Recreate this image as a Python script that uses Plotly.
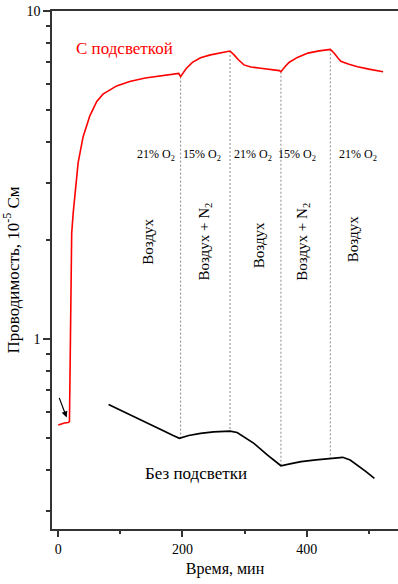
import numpy as np
import plotly.graph_objects as go

# ---- data ----
red_t = [0, 5, 10, 16, 18, 18.8, 20, 21.6, 24, 27, 32, 40, 51, 62, 72, 94, 115, 140, 160, 180, 194,
         197, 200, 206, 216, 229, 245, 262, 276.5, 283, 290, 299, 310, 326, 342, 356, 358.5,
         362, 366, 372, 385, 402, 420, 438, 444, 450, 455, 468, 482, 500, 523]
red_v = [0.547, 0.552, 0.555, 0.557, 0.56, 0.75, 1.31, 2.10, 2.42, 2.72, 3.45, 4.14, 4.80, 5.30, 5.58, 5.91, 6.10, 6.25, 6.33, 6.40, 6.45,
         6.31, 6.42, 6.68, 6.97, 7.20, 7.35, 7.45, 7.55, 7.35, 7.10, 6.85, 6.75, 6.69, 6.63, 6.58, 6.53,
         6.66, 6.80, 6.98, 7.22, 7.44, 7.56, 7.64, 7.45, 7.20, 7.03, 6.88, 6.76, 6.65, 6.53]

black_t = [81, 100, 120, 143, 165, 185, 195, 210, 229, 250, 276.5, 288, 300, 315, 337, 358.5,
           375, 391, 415, 438, 458, 470, 482, 495, 509]
black_v = [0.632, 0.608, 0.583, 0.555, 0.530, 0.508, 0.498, 0.508, 0.516, 0.521, 0.524, 0.519, 0.503, 0.481, 0.443, 0.411,
           0.417, 0.423, 0.428, 0.433, 0.436, 0.428, 0.413, 0.395, 0.376]

switch_t = [197, 276.5, 358.5, 438]

o2_labels = ["21% O<sub>2</sub>", "15% O<sub>2</sub>", "21% O<sub>2</sub>", "15% O<sub>2</sub>", "21% O<sub>2</sub>"]
o2_x = [157, 232, 313, 384, 483]
gas_labels = ["Воздух", "Воздух + N<sub>2</sub>", "Воздух", "Воздух + N<sub>2</sub>", "Воздух"]
gas_x = [144.5, 236, 323, 394, 475]
gas_y = [1.98, 1.98, 1.93, 1.98, 2.02]

x_ticks = [0, 200, 400]
x_minor = [100, 300, 500]
y_ticks = [1, 10]
y_minor = [0.3, 0.4, 0.5, 0.6, 0.7, 0.8, 0.9, 2, 3, 4, 5, 6, 7, 8, 9]

FONT = "'Liberation Serif', 'Times New Roman', Times, serif"
AX = "#333333"

fig = go.Figure()

lr_t, lr_v = np.array(red_t), np.log10(red_v)
lb_t, lb_v = np.array(black_t), np.log10(black_v)
for t in switch_t:
    top = 10 ** np.interp(t, lr_t, lr_v)
    bot = 10 ** np.interp(t, lb_t, lb_v)
    fig.add_trace(go.Scatter(x=[t, t], y=[top, bot], mode="lines",
                             line=dict(color="#8a8a8a", width=1, dash="2px,2px"),
                             showlegend=False, hoverinfo="skip"))

fig.add_trace(go.Scatter(x=red_t, y=red_v, mode="lines",
                         line=dict(color="#ff0000", width=1.6), showlegend=False))
fig.add_trace(go.Scatter(x=black_t, y=black_v, mode="lines",
                         line=dict(color="#000000", width=1.7), showlegend=False))

ann = []
ann.append(dict(x=107, y=np.log10(7.7), text="С подсветкой", showarrow=False,
                font=dict(family=FONT, size=17, color="#ff0000")))
ann.append(dict(x=221, y=np.log10(0.39), text="Без подсветки", showarrow=False,
                font=dict(family=FONT, size=17, color="#000000")))
for t, x in zip(o2_labels, o2_x):
    ann.append(dict(x=x, y=np.log10(3.64), text=t, showarrow=False,
                    font=dict(family=FONT, size=12, color="#000000")))
for t, x, y in zip(gas_labels, gas_x, gas_y):
    ann.append(dict(x=x, y=np.log10(y), text=t, showarrow=False, textangle=-90,
                    font=dict(family=FONT, size=15, color="#000000")))
ann.append(dict(x=13.5, y=np.log10(0.577), text="", showarrow=True, ax=-8, ay=-21,
                arrowhead=2, arrowsize=1, arrowwidth=1.2, arrowcolor="#000000"))

fig.update_layout(
    width=398, height=584,
    margin=dict(l=52, r=0, t=11, b=55),
    plot_bgcolor="white", paper_bgcolor="white",
    annotations=ann,
    font=dict(family=FONT, color="#000000"),
    xaxis=dict(range=[-10.1, 547], tickvals=x_ticks, ticks="outside", ticklen=6, tickwidth=1.5,
               tickcolor=AX, showline=True, linecolor=AX, linewidth=1.5, mirror=True,
               showgrid=False, zeroline=False,
               minor=dict(tickvals=x_minor, ticks="outside", ticklen=3, tickwidth=1.5, tickcolor=AX, showgrid=False),
               tickfont=dict(family=FONT, size=14, color="#000000"),
               title=dict(text="Время, мин", font=dict(family=FONT, size=16, color="#000000"), standoff=7)),
    yaxis=dict(type="log", range=[np.log10(0.2636), 1], tickvals=y_ticks, ticktext=["1", "10"],
               ticks="outside", ticklen=7, tickwidth=1.5, tickcolor=AX,
               showline=True, linecolor=AX, linewidth=1.5, mirror=False,
               showgrid=False, zeroline=False,
               minor=dict(tickvals=y_minor, ticks="outside", ticklen=4, tickwidth=1.5, tickcolor=AX, showgrid=False),
               tickfont=dict(family=FONT, size=14, color="#000000"),
               title=dict(text="Проводимость, 10<sup>-5</sup> См", font=dict(family=FONT, size=17, color="#000000"), standoff=3)),
)

fig.write_html("out.html")
